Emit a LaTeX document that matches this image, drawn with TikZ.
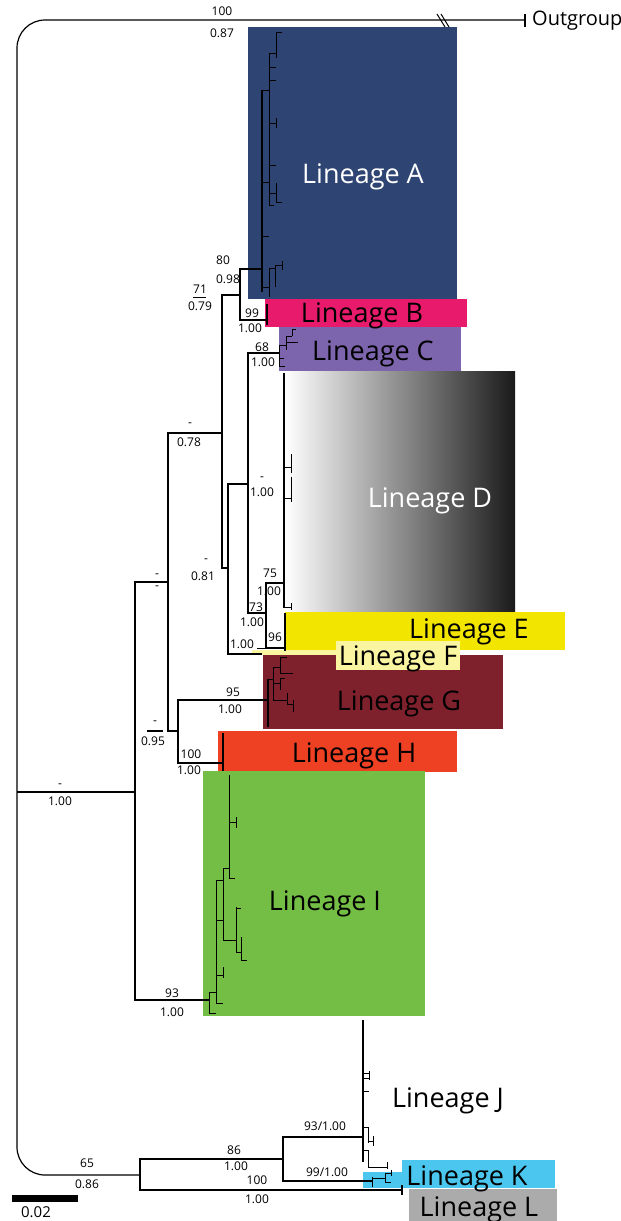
\documentclass[tikz,border=0pt]{standalone}
\usepackage{fontspec}
\setmainfont{Open Sans}
\definecolor{linA}{RGB}{46,68,115}
\definecolor{linB}{RGB}{232,26,108}
\definecolor{linC}{RGB}{125,101,174}
\definecolor{linE}{RGB}{242,230,0}
\definecolor{linF}{RGB}{250,245,160}
\definecolor{linG}{RGB}{126,33,45}
\definecolor{linH}{RGB}{238,64,35}
\definecolor{linI}{RGB}{116,190,69}
\definecolor{linK}{RGB}{75,198,238}
\definecolor{linL}{RGB}{171,171,171}
\definecolor{darkD}{RGB}{26,26,26}
\tikzset{
  br/.style={line width=1.2pt},
  tw/.style={line width=1pt},
  clade/.style={line width=2pt},
  supp/.style={font=\fontsize{12}{14}\selectfont, inner sep=0pt},
  lin/.style={font=\fontsize{27}{30}\selectfont, inner sep=0pt, anchor=base},
}
\begin{document}
\begin{tikzpicture}[x=1pt,y=-1pt]
\useasboundingbox (0,0) rectangle (621,1221);
\fill[white] (0,0) rectangle (621,1221);

% ---- lineage boxes ----
\fill[linA] (248,27) rectangle (457,299);
\fill[linB] (265,299) rectangle (467,327);
\fill[linC] (279,327) rectangle (461,371);
\shade[left color=white, right color=darkD] (285,371) rectangle (515,613);
\fill[linE] (285,612) rectangle (565,650);
\fill[linG] (263,655) rectangle (503,729);
\fill[linF] (252,650) rectangle (337,655);
\fill[linF] (336,641) rectangle (460,670);
\fill[linH] (218,731) rectangle (457,772);
\fill[linI] (203,771) rectangle (425,1016);
\fill[linK] (402,1160) rectangle (555,1188);
\fill[linK] (363,1172) rectangle (402,1188);
\fill[linL] (409,1189) rectangle (557,1221);

% ---- tree nodes ----
\coordinate (OG) at (525,20);
\coordinate (R)  at (17,792);
\coordinate (IN) at (135,792);
\coordinate (U)  at (168,582);
\coordinate (N2) at (222,433);
\coordinate (AB) at (240,295);
\coordinate (A)  at (262,269);
\coordinate (B)  at (267,320);
\coordinate (N3) at (228,568);
\coordinate (N4) at (248,484);
\coordinate (C)  at (279,353);
\coordinate (N5) at (266,613);
\coordinate (D)  at (284,583);
\coordinate (E)  at (285,648);
\coordinate (F)  at (262,654);
\coordinate (GH) at (178,731);
\coordinate (G)  at (268,700);
\coordinate (H)  at (223,763);
\coordinate (IC) at (209,1000);
\coordinate (KL) at (140,1175);
\coordinate (JK) at (283,1159);
\coordinate (J)  at (363,1137);
\coordinate (K)  at (372,1181);
\coordinate (L)  at (402,1190);

% ---- backbone ----
\draw[br, rounded corners=28pt] (OG) -| (R) |- (KL);
\draw[br] (OG) ++(0,-6) -- ++(0,13);
\draw[tw] (437,14) -- (445,27) (441,14) -- (449,27);
\draw[br] (R) -- (IN);
\draw[br] (IN) |- (U);
\draw[br] (IN) |- (IC);
\draw[br] (U) |- (N2);
\draw[br] (U) |- (GH);
\draw[br] (N2) |- (AB);
\draw[br] (N2) |- (N3);
\draw[br] (AB) |- (A);
\draw[br] (AB) |- (B);
\draw[br] (N3) |- (N4);
\draw[br] (N3) |- (F);
\draw[br] (N4) |- (C);
\draw[br] (N4) |- (N5);
\draw[br] (N5) |- (D);
\draw[br] (N5) |- (E);
\draw[br] (GH) |- (G);
\draw[br] (GH) |- (H);
\draw[br] (KL) |- (JK);
\draw[br] (KL) |- (L);
\draw[br] (JK) |- (J);
\draw[br] (JK) |- (K);

% ---- collapsed tips ----
\draw[clade] (267,304) -- (267,325);
\draw[clade] (285,613) -- (285,651);
\draw[clade] (223,733) -- (223,771);
\draw[br] (L) ++(0,-5) -- ++(0,10);
\draw[tw] (257,648) -- (268,648);

% ---- Lineage A ----
\draw[br] (262,90) -- (262,292);
\draw[tw] (262,90) -- (269,90) (269,53) -- (269,205)
  (269,53) -- (276,53) (276,32) -- (276,58) (276,32) -- (282,32)
  (269,67) -- (276,67) (269,80) -- (276,80)
  (269,123) -- (276,123) (276,118) -- (276,128)
  (269,165) -- (276,165)
  (262,182) -- (269,182) (269,193) -- (276,193) (276,183) -- (276,202) (276,202) -- (282,202)
  (269,205) -- (274,205)
  (262,236) -- (269,236)
  (262,287) -- (269,287) (269,268) -- (269,297) (269,268) -- (275,268)
  (275,265) -- (275,287) (275,265) -- (282,265) (282,261) -- (282,270);

% ---- Lineage C ----
\draw[tw] (279,345) -- (279,367) (279,345) -- (286,345) (286,336) -- (286,350)
  (286,336) -- (292,336) (292,329) -- (292,336) (292,329) -- (296,329)
  (286,342) -- (298,342) (279,358) -- (284,358) (279,366) -- (285,366);

% ---- Lineage D ----
\draw[br] (284,373) -- (284,608);
\draw[tw] (284,467) -- (291,467) (291,454) -- (291,473)
  (284,498) -- (291,498) (291,477) -- (291,502)
  (284,607) -- (291,607) (291,603) -- (291,610);

% ---- Lineage G ----
\draw[br] (268,679) -- (268,727);
\draw[tw] (268,679) -- (273,679) (273,667) -- (273,700)
  (273,667) -- (280,667) (280,657) -- (280,673) (280,657) -- (287,657)
  (280,673) -- (293,673)
  (273,683) -- (280,683) (280,678) -- (280,690) (280,678) -- (285,678)
  (273,700) -- (287,700) (287,693) -- (287,704) (287,704) -- (293,704)
  (293,700) -- (293,712);

% ---- Lineage I ----
\draw[tw] (209,992) -- (209,1013) (209,992) -- (216,992) (209,1013) -- (216,1013)
  (216,880) -- (216,1003) (216,1003) -- (223,1003)
  (216,975) -- (223,975) (223,967) -- (223,978)
  (216,880) -- (223,880) (223,868) -- (223,940)
  (223,868) -- (229,868) (229,775) -- (229,878) (229,878) -- (235,878)
  (229,822) -- (236,822) (236,817) -- (236,828)
  (216,920) -- (223,920)
  (223,940) -- (236,940) (236,907) -- (236,952)
  (236,908) -- (241,908) (236,952) -- (241,952)
  (241,937) -- (241,960) (241,960) -- (247,960);

% ---- Lineage J ----
\draw[br] (363,1020) -- (363,1162);
\draw[tw] (363,1073) -- (369,1073) (363,1078) -- (369,1078) (369,1071) -- (369,1080)
  (363,1091) -- (369,1091)
  (368,1127) -- (368,1143) (363,1127) -- (368,1127) (368,1141) -- (373,1141) (373,1136) -- (373,1146)
  (363,1150) -- (368,1150) (368,1150) -- (368,1167) (368,1167) -- (387,1167) (387,1162) -- (387,1169);

% ---- Lineage K ----
\draw[tw] (372,1177) -- (372,1187) (372,1178) -- (385,1178) (385,1173) -- (385,1182)
  (385,1173) -- (391,1173) (385,1182) -- (391,1182) (391,1170) -- (391,1176);

% ---- scale bar ----
\draw[line width=7pt] (12,1198) -- (78,1198);
\node[font=\fontsize{15}{17}\selectfont, inner sep=0pt] (scl) at (36,1212) {0.02};

% ---- support values ----
\node[supp] (s1a) at (222,11) {100};
\node[supp] (s1b) at (222,33) {0.87};
\node[supp] (s2a) at (223,260) {80};
\node[supp] (s2b) at (228,279) {0.98};
\node[supp] (s3a) at (200,289) {71};
\draw[tw] (193,297) -- (206,297);
\node[supp] (s3b) at (200,306) {0.79};
\node[supp] (s4a) at (252,313) {99};
\node[supp] (s4b) at (250,328) {1.00};
\node[supp] (s5a) at (262,347) {68};
\node[supp] (s5b) at (263,362) {1.00};
\node[supp] (s6a) at (190,425) {-};
\node[supp] (s6b) at (189,442) {0.78};
\node[supp] (s7a) at (262,479) {-};
\node[supp] (s7b) at (262,492) {1.00};
\node[supp] (s8a) at (206,561) {-};
\node[supp] (s8b) at (203,576) {0.81};
\node[supp] (s9a) at (270,573) {75};
\node[supp] (s9b) at (269,591) {1.00};
\node[supp] (s10a) at (256,607) {73};
\node[supp] (s10b) at (252,622) {1.00};
\node[supp] (s11) at (275,637) {96};
\node[supp] (s12) at (242,644) {1.00};
\node[supp] (s13a) at (157,576) {-};
\node[supp] (s13b) at (157,588) {-};
\node[supp] (s14a) at (233,692) {95};
\node[supp] (s14b) at (230,709) {1.00};
\node[supp] (s15a) at (155,723) {-};
\draw[line width=1.6pt] (147,731) -- (163,731);
\node[supp] (s15b) at (153,741) {0.95};
\node[supp] (s16a) at (191,754) {100};
\node[supp] (s16b) at (189,770) {1.00};
\node[supp] (s17a) at (60,786) {-};
\node[supp] (s17b) at (60,801) {1.00};
\node[supp] (s18a) at (172,993) {93};
\node[supp] (s18b) at (172,1012) {1.00};
\node[supp] (s19) at (325,1126) {93/1.00};
\node[supp] (s20a) at (234,1150) {86};
\node[supp] (s20b) at (236,1166) {1.00};
\node[supp] (s21a) at (87,1163) {65};
\node[supp] (s21b) at (87,1184) {0.86};
\node[supp] (s22) at (327,1172) {99/1.00};
\node[supp] (s23a) at (257,1180) {100};
\node[supp] (s23b) at (257,1199) {1.00};

% ---- lineage names ----
\node[font=\fontsize{20}{22}\selectfont, inner sep=0pt, anchor=west] (og) at (532,21) {Outgroup};
\node[lin, text=white] (tA) at (363,183) {Lineage A};
\node[lin] (tB) at (362,322) {Lineage B};
\node[lin] (tC) at (373,360) {Lineage C};
\node[lin, text=white] (tD) at (430,507) {Lineage D};
\node[lin] (tE) at (469,638) {Lineage E};
\node[lin] (tF) at (398,665) {Lineage F};
\node[lin] (tG) at (399,710) {Lineage G};
\node[lin] (tH) at (354,762) {Lineage H};
\node[lin] (tI) at (325,910) {Lineage I};
\node[lin] (tJ) at (448,1107) {Lineage J};
\node[lin] (tK) at (467,1185) {Lineage K};
\node[lin] (tL) at (479,1216) {Lineage L};
\end{tikzpicture}
\end{document}
